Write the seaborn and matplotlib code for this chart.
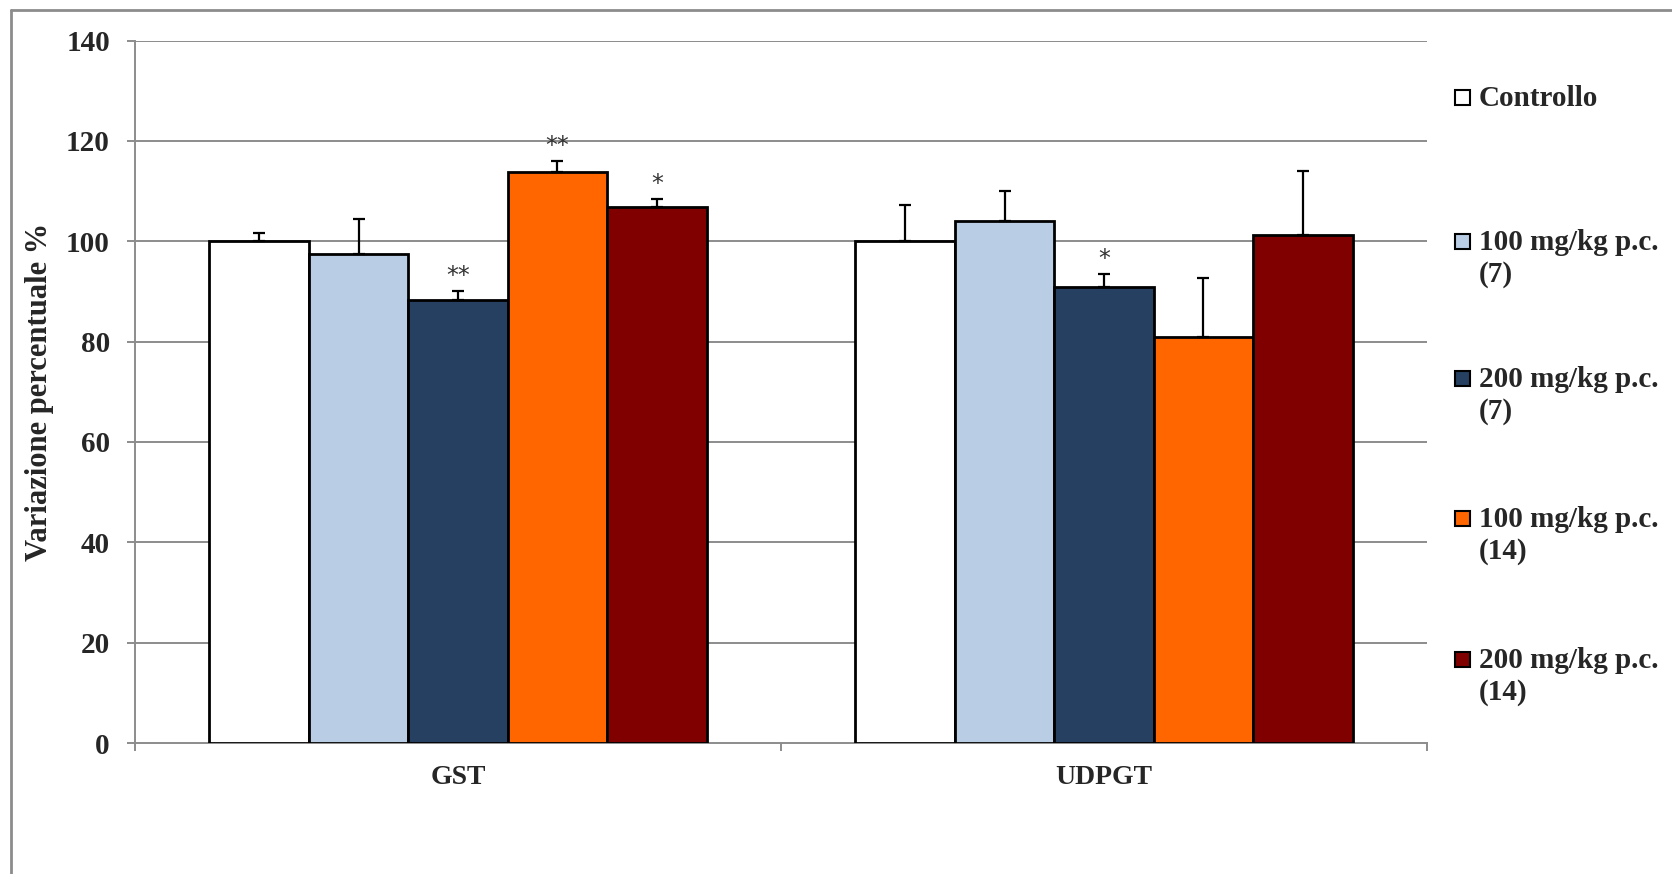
import pandas as pd
import matplotlib
matplotlib.use("Agg")
import matplotlib.pyplot as plt
import seaborn as sns
from matplotlib.lines import Line2D
from matplotlib.patches import Rectangle

# data
enzymes = ["GST", "UDPGT"]
groups = ["Controllo", "100 mg/kg p.c.\n(7)", "200 mg/kg p.c.\n(7)",
          "100 mg/kg p.c.\n(14)", "200 mg/kg p.c.\n(14)"]
gst_mean = [100.0, 97.5, 88.2, 113.8, 106.8]
gst_err = [1.6, 6.9, 1.9, 2.2, 1.6]
udpgt_mean = [100.0, 104.0, 90.9, 80.9, 101.2]
udpgt_err = [7.2, 6.0, 2.5, 11.7, 12.8]
stars = {("GST", 2): "**", ("GST", 3): "**", ("GST", 4): "*", ("UDPGT", 2): "*"}
colors = ["#FFFFFF", "#B9CDE5", "#254061", "#FF6600", "#800000"]

df = pd.DataFrame({
    "enzyme": [e for e in enzymes for _ in groups],
    "group": groups * 2,
    "value": gst_mean + udpgt_mean,
    "err": gst_err + udpgt_err,
})

sns.set_style("white")
plt.rcParams["font.family"] = ["Liberation Serif", "DejaVu Serif"]
plt.rcParams["font.weight"] = "bold"

fig = plt.figure(figsize=(16.72, 8.74), dpi=100)
ax = fig.add_axes([135 / 1672, 1 - 743 / 874, (1427 - 135) / 1672, (743 - 40.5) / 874])

grid_c = "#8C8C8C"
for v in range(20, 141, 20):
    ax.axhline(v, color=grid_c, lw=1.4, zorder=0)

sns.barplot(data=df, x="enzyme", y="value", hue="group", order=enzymes,
            hue_order=groups, palette=colors, width=0.77, gap=0,
            errorbar=None, edgecolor="black", linewidth=2, saturation=1,
            legend=False, ax=ax, zorder=3)

# one-sided error bars and significance marks
bars = ax.patches
for j, g in enumerate(groups):
    for i, e in enumerate(enzymes):
        row = df[(df.enzyme == e) & (df.group == g)].iloc[0]
        p = bars[j * len(enzymes) + i]
        xc = p.get_x() + p.get_width() / 2
        ax.errorbar(xc, row.value, yerr=[[0], [row.err]], fmt="none",
                    ecolor="black", elinewidth=1.6, capsize=4.5, capthick=1.6, zorder=4)
        if (e, j) in stars:
            ax.text(xc, row.value + row.err + 3.0, stars[(e, j)], ha="center",
                    va="center", fontsize=17, fontweight="normal", color="#333333",
                    family=["DejaVu Sans"], zorder=5)

ax.set_ylim(0, 140)
ax.set_xlim(-0.5, 1.5)
ax.set_yticks(range(0, 141, 20))
ax.set_yticklabels([str(v) for v in range(0, 141, 20)], fontsize=21, fontweight="bold")
ax.set_xticks([-0.5, 0.5, 1.5])
ax.set_xticklabels(["", "", ""])
ax.set_xticks([0, 1], minor=True)
ax.set_xticklabels(enzymes, minor=True, fontsize=20, fontweight="bold")
ax.tick_params(axis="y", direction="out", length=6, width=1.4, color=grid_c, pad=12, left=True)
ax.tick_params(axis="x", which="major", direction="out", length=6, width=1.4, color=grid_c, bottom=True)
ax.tick_params(axis="x", which="minor", length=0, pad=16)
ax.set_xlabel("")
ax.set_ylabel("Variazione percentuale %", fontsize=22, fontweight="bold", labelpad=9)

for s in ["top", "right"]:
    ax.spines[s].set_visible(False)
for s in ["left", "bottom"]:
    ax.spines[s].set_color(grid_c)
    ax.spines[s].set_linewidth(1.4)
    ax.spines[s].set_zorder(2)

# legend drawn at the right, one entry per group
leg_y = [97, 241, 378, 518, 659]
for g, c, y in zip(groups, colors, leg_y):
    fy = 1 - y / 874
    fig.patches.append(Rectangle((1455 / 1672, fy - 8 / 874), 15 / 1672, 15 / 874,
                                 facecolor=c, edgecolor="black", lw=1.5,
                                 transform=fig.transFigure, figure=fig))
    fig.text(1479 / 1672, fy + 12 / 874, g, ha="left", va="top", fontsize=21,
             fontweight="bold", linespacing=1.2)

# outer chart frame (left and top visible)
fig.add_artist(Line2D([11 / 1672, 11 / 1672], [0, 1 - 10 / 874], color=grid_c, lw=2,
                      transform=fig.transFigure))
fig.add_artist(Line2D([11 / 1672, 1], [1 - 10 / 874, 1 - 10 / 874], color=grid_c, lw=2,
                      transform=fig.transFigure))

fig.savefig("out.png", dpi=100, facecolor="white")
